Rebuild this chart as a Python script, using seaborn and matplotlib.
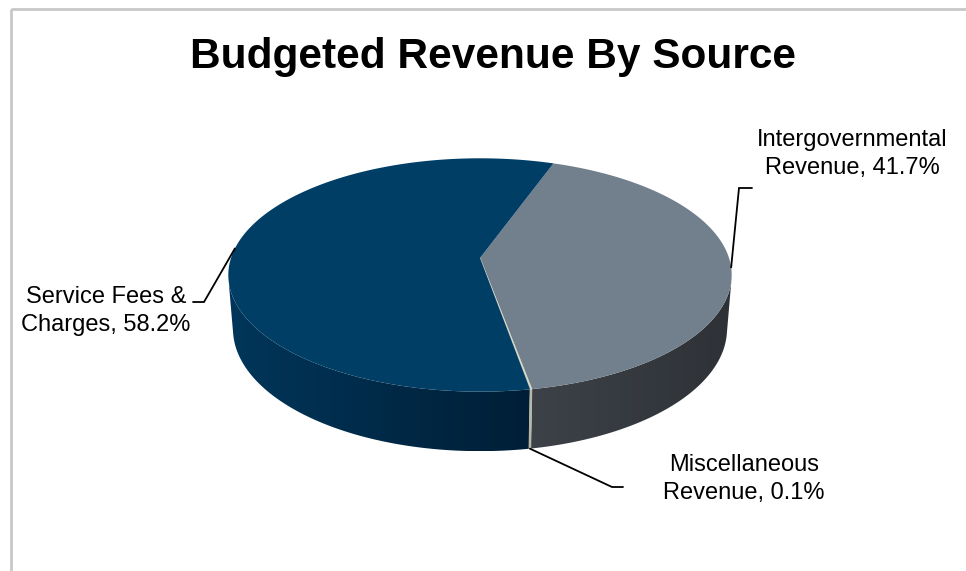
import numpy as np
import matplotlib
matplotlib.use("Agg")
import matplotlib.pyplot as plt
from matplotlib.patches import Polygon, Rectangle
from matplotlib.colors import to_rgb
import seaborn as sns

# ---- data ----
sources = ["Intergovernmental\nRevenue", "Miscellaneous\nRevenue", "Service Fees &\nCharges"]
shares = [41.7, 0.1, 58.2]
top_colors = ["#71808C", "#D6D6C4", "#003E66"]
side_colors_left = ["#3D4248", "#B8B8A8", "#00365A"]
side_colors_right = ["#2E3237", "#A8A898", "#001E36"]
title = "Budgeted Revenue By Source"

# ---- label layout (text centre, leader elbow, leader end) ----
label_xy = [(852, 154), (744, 479), (106, 311)]
leader_elbow = [(739, 188), (612, 487), (204, 302)]
leader_end = [(752, 188), (623, 487), (193, 302)]
leader_on_side = [False, True, False]

sns.set_theme(style="white")
plt.rcParams["font.family"] = ["Liberation Sans", "DejaVu Sans"]

W, H = 966, 571
fig = plt.figure(figsize=(W / 100, H / 100), dpi=100)
ax = fig.add_axes([0, 0, 1, 1])
ax.set_xlim(0, W)
ax.set_ylim(H, 0)
ax.axis("off")

# ---- perspective projection of a unit-radius pie disc ----
phi = np.radians(27.3)        # camera elevation
sp, cp = np.sin(phi), np.cos(phi)
DIST = 6.11                   # camera distance (in radii)
RAD = 249.0                   # screen scale
CX, CY = 480.0, 258.0         # projected disc centre
THICK = 0.246                 # disc thickness (in radii)
START = np.radians(19.6)      # first slice boundary, clockwise from the back


def proj(theta, h=0.0, r=1.0):
    u = r * np.sin(theta)
    v = r * np.cos(theta)
    depth = DIST + v * cp - h * sp
    x = CX + RAD * u * DIST / depth
    y = CY - RAD * (v * sp + h * cp) * DIST / depth
    return x, y


fr = np.array(shares) / np.sum(shares)
bounds = START + np.concatenate([[0], np.cumsum(fr)]) * 2 * np.pi

# visible arc of the cylinder wall (tangent lines from the eye)
half_vis = np.arccos(1.0 / (DIST * cp))
vis_lo, vis_hi = np.pi - half_vis, np.pi + half_vis


def side_range(a, b):
    # bring the slice range next to the visible window and intersect
    for shift in (0, -2 * np.pi, 2 * np.pi):
        lo, hi = max(a + shift, vis_lo), min(b + shift, vis_hi)
        if hi > lo:
            return lo, hi
    return None


# side walls with horizontal shading
for i in range(len(shares)):
    rng = side_range(bounds[i], bounds[i + 1])
    if rng is None:
        continue
    th = np.linspace(rng[0], rng[1], 200)
    xt, yt = proj(th, 0.0)
    xb, yb = proj(th[::-1], -THICK)
    pts = np.column_stack([np.concatenate([xt, xb]), np.concatenate([yt, yb])])
    poly = Polygon(pts, closed=True, facecolor="none", edgecolor="none")
    ax.add_patch(poly)
    x0, x1 = pts[:, 0].min(), pts[:, 0].max()
    y0, y1 = pts[:, 1].min(), pts[:, 1].max()
    pal = sns.blend_palette([side_colors_left[i], side_colors_right[i]], n_colors=256)
    grad = np.array([to_rgb(col) for col in pal])[None, :, :]
    im = ax.imshow(grad, extent=(x0, x1 + 0.5, y1, y0), aspect="auto",
                   interpolation="bilinear", zorder=1)
    im.set_clip_path(poly)
    if x1 - x0 < 3:
        ax.add_patch(Polygon(pts, closed=True, facecolor=side_colors_left[i],
                             edgecolor=side_colors_left[i], lw=0.6, zorder=2))

# top faces
for i in range(len(shares)):
    th = np.linspace(bounds[i], bounds[i + 1], max(4, int(400 * fr[i])))
    xa, ya = proj(th, 0.0)
    pts = np.column_stack([np.concatenate([[CX], xa]), np.concatenate([[CY], ya])])
    thin = fr[i] < 0.01
    ax.add_patch(Polygon(pts, closed=True, facecolor=top_colors[i],
                         edgecolor=top_colors[i] if thin else "none",
                         lw=0.6 if thin else 0, zorder=3))

# labels with leader lines
for i, name in enumerate(sources):
    mid = 0.5 * (bounds[i] + bounds[i + 1])
    ax_, ay_ = proj(mid, -THICK if leader_on_side[i] else 0.0)
    ex, ey = leader_elbow[i]
    gx, gy = leader_end[i]
    ax.plot([ax_, ex, gx], [ay_, ey, gy], color="black", lw=1.3,
            solid_joinstyle="miter", zorder=4)
    ax.text(label_xy[i][0], label_xy[i][1], f"{name}, {shares[i]:.1f}%",
            ha="center", va="center", multialignment="center",
            fontsize=17, linespacing=1.38, color="black", zorder=5)

# title
ax.text(493, 57, title, ha="center", va="center", fontsize=30.5,
        fontweight="bold", color="black")

# chart frame
ax.add_patch(Rectangle((10.5, 9), 1200, 800, facecolor="none",
                       edgecolor="#C8C8C8", lw=2, zorder=0))

fig.savefig("out.png", dpi=100)
